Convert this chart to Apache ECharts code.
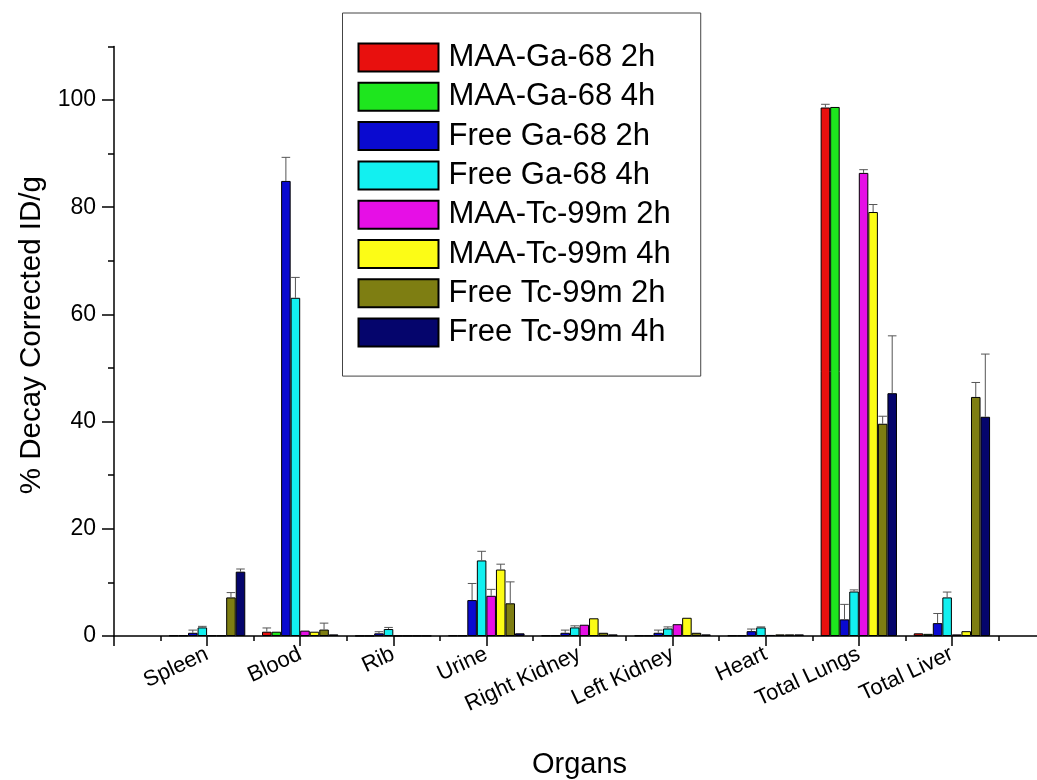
<!DOCTYPE html>
<html><head><meta charset="utf-8">
<script src="https://cdn.jsdelivr.net/npm/echarts@6/dist/echarts.min.js"></script>
<style>html,body{margin:0;padding:0;background:#fff}#c{width:1037px;height:780px}</style>
</head><body><div id="c"></div>
<script>
// ---- data ----
const categories = ['Spleen', 'Blood', 'Rib', 'Urine', 'Right Kidney', 'Left Kidney', 'Heart', 'Total Lungs', 'Total Liver'];
const seriesNames = ['MAA-Ga-68 2h', 'MAA-Ga-68 4h', 'Free Ga-68 2h', 'Free Ga-68 4h', 'MAA-Tc-99m 2h', 'MAA-Tc-99m 4h', 'Free Tc-99m 2h', 'Free Tc-99m 4h'];

const maaGa68_2h      = [0.1, 0.8, 0.05, 0.1, 0.1, 0.1, 0.1, 98.6, 0.5];
const maaGa68_2hErr   = [0, 0.7, 0, 0, 0, 0, 0, 0.6, 0];
const maaGa68_4h      = [0.1, 0.8, 0.05, 0.1, 0.1, 0.1, 0.1, 98.7, 0.4];
const maaGa68_4hErr   = [0, 0, 0, 0, 0, 0, 0, 0, 0];
const freeGa68_2h     = [0.6, 84.9, 0.5, 6.7, 0.6, 0.6, 0.9, 3.1, 2.4];
const freeGa68_2hErr  = [0.5, 4.4, 0.3, 3.1, 0.5, 0.5, 0.4, 2.8, 1.8];
const freeGa68_4h     = [1.6, 63.1, 1.3, 14.1, 1.6, 1.4, 1.6, 8.3, 7.2];
const freeGa68_4hErr  = [0.2, 3.8, 0.3, 1.7, 0.3, 0.3, 0.1, 0.3, 1.0];
const maaTc99m_2h     = [0.1, 1.0, 0.05, 7.5, 2.1, 2.2, 0.2, 86.4, 0.3];
const maaTc99m_2hErr  = [0, 0, 0, 1.2, 0, 0, 0, 0.6, 0];
const maaTc99m_4h     = [0.1, 0.8, 0.05, 12.4, 3.3, 3.4, 0.3, 79.1, 0.9];
const maaTc99m_4hErr  = [0, 0, 0, 1.0, 0, 0, 0, 1.4, 0];
const freeTc99m_2h    = [7.2, 1.2, 0.05, 6.1, 0.6, 0.6, 0.3, 39.6, 44.6];
const freeTc99m_2hErr = [0.9, 1.2, 0, 4.0, 0, 0, 0, 1.4, 2.7];
const freeTc99m_4h    = [12.0, 0.3, 0.05, 0.5, 0.3, 0.3, 0.3, 45.3, 40.9];
const freeTc99m_4hErr = [0.5, 0, 0, 0, 0, 0, 0, 10.7, 11.7];

const yTickValues = [0, 20, 40, 60, 80, 100];
const yMinorTickValues = [10, 30, 50, 70, 90, 110];

// ---- build ----
const values = [maaGa68_2h, maaGa68_4h, freeGa68_2h, freeGa68_4h, maaTc99m_2h, maaTc99m_4h, freeTc99m_2h, freeTc99m_4h];
const errors = [maaGa68_2hErr, maaGa68_4hErr, freeGa68_2hErr, freeGa68_4hErr, maaTc99m_2hErr, maaTc99m_4hErr, freeTc99m_2hErr, freeTc99m_4hErr];
const colors = ['#e8100e', '#1ee61e', '#0a0ad0', '#12f0f0', '#e60fe6', '#fcfc16', '#7e7e12', '#05056c'];
const CAT_GAP = 0.18;
const FONT = "'Liberation Sans', Arial, sans-serif";

const barSeries = seriesNames.map((name, k) => ({
  name, type: 'bar',
  data: values[k].map((v, i) => [i + 1, v]),
  barGap: '0%', barCategoryGap: (CAT_GAP * 100) + '%',
  itemStyle: { color: colors[k], borderColor: '#000', borderWidth: 1 },
  emphasis: { disabled: true }, animation: false
}));

const errData = [];
errors.forEach((arr, k) => arr.forEach((e, i) => { if (e > 0) errData.push([i + 1, values[k][i], e, k]); }));

const errSeries = {
  type: 'custom', name: 'err', data: errData, z: 5, animation: false, silent: true,
  renderItem(params, api) {
    const x = api.value(0), v = api.value(1), e = api.value(2), k = api.value(3);
    const band = api.size([1, 0])[0];
    const bw = band * (1 - CAT_GAP) / 8;
    const cx = api.coord([x, 0])[0] + (k - 3.5) * bw;
    const y0 = api.coord([x, v])[1];
    const y1 = api.coord([x, v + e])[1];
    const hw = bw * 0.45;
    const st = { stroke: '#555', lineWidth: 1 };
    return { type: 'group', children: [
      { type: 'line', shape: { x1: cx, y1: y0, x2: cx, y2: y1 }, style: st },
      { type: 'line', shape: { x1: cx - hw, y1: y1, x2: cx + hw, y2: y1 }, style: st }
    ]};
  }
};

const chart = echarts.init(document.getElementById('c'), null, { renderer: 'canvas' });
chart.setOption({
  backgroundColor: '#fff',
  animation: false,
  textStyle: { fontFamily: FONT },
  grid: { left: 114, top: 46.4, width: 931, height: 589.6, containLabel: false, outerBoundsMode: 'none' },
  legend: {
    data: seriesNames, orient: 'vertical', left: 342.5, top: 13,
    padding: [29, 30, 28, 15], itemWidth: 80, itemHeight: 28, itemGap: 8.3,
    borderColor: '#444', borderWidth: 1, icon: 'rect',
    textStyle: { fontSize: 31, color: '#000', fontFamily: FONT, padding: [0, 0, 0, 5] },
    selectedMode: false
  },
  xAxis: [{
    type: 'value', min: 0, max: 10, interval: 1, position: 'bottom',
    name: 'Organs', nameLocation: 'middle', nameGap: 114,
    nameTextStyle: { fontSize: 29, color: '#000', fontFamily: FONT },
    axisLine: { onZero: false, lineStyle: { color: '#000', width: 1.5 } },
    axisTick: { length: 10, lineStyle: { color: '#000', width: 1.5 } },
    minorTick: { show: true, splitNumber: 2, length: 5, lineStyle: { color: '#000', width: 1.5 } },
    splitLine: { show: false }, minorSplitLine: { show: false },
    axisLabel: {
      rotate: 25, fontSize: 22, color: '#000', margin: 17, fontFamily: FONT,
      formatter: v => categories[Math.round(v) - 1] || ''
    }
  }],
  yAxis: [{
    type: 'value', min: 0, max: 110, interval: 10, position: 'left',
    name: '% Decay Corrected ID/g', nameLocation: 'middle', nameGap: 66,
    nameTextStyle: { fontSize: 29.5, color: '#000', fontFamily: FONT, padding: [0, 0, 0, 12] },
    axisLine: { show: true, lineStyle: { color: '#000', width: 1.5 } },
    axisTick: { show: true, length: 12, customValues: yTickValues, lineStyle: { color: '#000', width: 1.5 } },
    axisLabel: { customValues: yTickValues, fontSize: 23, color: '#000', margin: 18, fontFamily: FONT },
    splitLine: { show: false }
  }, {
    type: 'value', min: 0, max: 110, interval: 10, position: 'left',
    axisLine: { show: false },
    axisTick: { show: true, length: 6, customValues: yMinorTickValues, lineStyle: { color: '#000', width: 1.5 } },
    axisLabel: { show: false },
    splitLine: { show: false }
  }],
  series: [...barSeries, errSeries]
});
</script></body></html>
